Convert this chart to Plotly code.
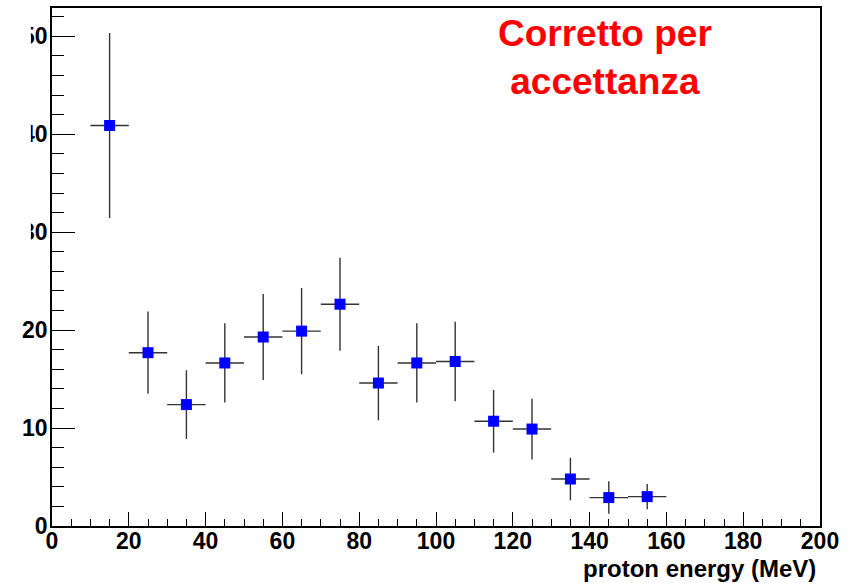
import plotly.graph_objects as go

# Data
energy = [15, 25, 35, 45, 55, 65, 75, 85, 95, 105, 115, 125, 135, 145, 155]
counts = [40.9, 17.7, 12.4, 16.65, 19.3, 19.9, 22.65, 14.6, 16.65, 16.8, 10.7, 9.9, 4.8, 2.9, 3.0]
count_err = [9.45, 4.2, 3.5, 4.05, 4.4, 4.4, 4.75, 3.8, 4.05, 4.07, 3.2, 3.1, 2.17, 1.66, 1.29]
bin_half_width = [5] * len(energy)

x_tick_vals = [0, 20, 40, 60, 80, 100, 120, 140, 160, 180, 200]
y_tick_vals = [0, 10, 20, 30, 40, 50]

FONT = "Liberation Sans, Arial, Helvetica, sans-serif"

fig = go.Figure()
fig.add_trace(go.Scatter(
    x=energy, y=counts, mode="markers",
    marker=dict(symbol="square", size=11, color="#0000ff", line=dict(width=0)),
    error_y=dict(type="data", array=count_err, visible=True, thickness=1.4, width=0, color="#333333"),
    error_x=dict(type="data", array=bin_half_width, visible=True, thickness=1.4, width=0, color="#333333"),
    showlegend=False,
))

fig.update_layout(
    width=856, height=583,
    margin=dict(l=52, r=36, t=6, b=57),
    paper_bgcolor="white", plot_bgcolor="white",
    font=dict(family=FONT, color="black"),
    xaxis=dict(
        range=[0, 200], tickvals=x_tick_vals, ticks="inside", ticklen=14, tickwidth=1.2,
        tickcolor="black", showgrid=False, zeroline=False, showline=True, linecolor="black",
        linewidth=1.5, mirror=True,
        tickfont=dict(family=FONT, size=23, weight="bold"), ticklabelstandoff=-6,
        minor=dict(dtick=5, ticks="inside", ticklen=7, tickwidth=1.2, tickcolor="black", showgrid=False),
    ),
    yaxis=dict(
        range=[0, 52.9], tickvals=y_tick_vals, ticks="inside", ticklen=23, tickwidth=1.2,
        tickcolor="black", showgrid=False, zeroline=False, showline=True, linecolor="black",
        linewidth=1.8, mirror=True,
        tickfont=dict(family=FONT, size=23, weight="bold"), ticklabelstandoff=-2,
        minor=dict(dtick=2, ticks="inside", ticklen=12, tickwidth=1.2, tickcolor="black", showgrid=False),
    ),
    annotations=[
        dict(text="proton energy (MeV)", xref="paper", yref="paper", x=0.998, y=-0.083,
             xanchor="right", yanchor="middle", showarrow=False,
             font=dict(family=FONT, size=24, weight="bold", color="black")),
        dict(text="Corretto per<br>accettanza", xref="paper", yref="paper", x=0.72, y=0.994,
             xanchor="center", yanchor="top", showarrow=False, align="center",
             font=dict(family=FONT, size=37, weight="bold", color="#ff0000")),
    ],
    shapes=[
        dict(type="rect", xref="paper", yref="paper", x0=-0.0677, x1=-0.0275, y0=0.47, y1=1.02,
             fillcolor="white", line=dict(width=0), layer="above"),
    ],
)

fig.write_html("out.html", config={"displayModeBar": False},
               post_script="document.body.style.margin='0';")
